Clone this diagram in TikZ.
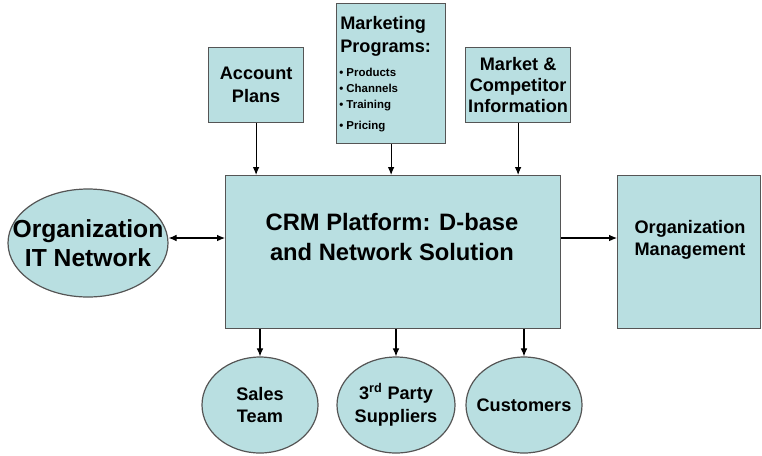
\documentclass[tikz,border=0pt]{standalone}
\usepackage{fontspec}
\setmainfont{Liberation Sans}
\usetikzlibrary{shapes.geometric,arrows.meta}
\definecolor{crmfill}{RGB}{185,223,225}
\definecolor{crmline}{RGB}{85,85,85}
\newdimen\px \px=0.75pt
\tikzset{
  box/.style={draw=crmline, fill=crmfill, line width=0.9pt, inner sep=0pt},
  blob/.style={ellipse, draw=crmline, fill=crmfill, line width=0.9pt, inner sep=0pt},
  link/.style={-{Latex[length=6pt,width=5pt]}, line width=0.8pt},
  mid/.style={font=\bfseries\fontsize{13.6}{17}\selectfont},
  big/.style={font=\bfseries\fontsize{17.8}{23}\selectfont},
}
\begin{document}
\begin{tikzpicture}[x=0.75pt,y=-0.75pt]
  \useasboundingbox (0,0) rectangle (762,455);
  % input boxes
  \node[box, minimum width=95\px, minimum height=75\px, anchor=north west] (plans) at (208,47) {};
  \node[align=center, mid] at (plans.center) {Account\\Plans};
  \node[box, minimum width=109\px, minimum height=140\px, anchor=north west] (mkt) at (336,3) {};
  \node[align=left, anchor=north west, inner sep=0pt, mid] at (340,16) {Marketing\\Programs:};
  \node[align=left, anchor=north west, inner sep=0pt, font=\bfseries\fontsize{8.6}{12}\selectfont] at (339,68) {\textbullet{} Products\\\textbullet{} Channels\\\textbullet{} Training\\[4pt]\textbullet{} Pricing};
  \node[box, minimum width=105\px, minimum height=75\px, anchor=north west] (intel) at (465,47) {};
  \node[align=center, font=\bfseries\fontsize{13.6}{16}\selectfont] at (intel.center) {Market \&\\Competitor\\Information};
  % platform and outputs
  \node[box, minimum width=335\px, minimum height=153\px, anchor=north west] (crm) at (225,175) {};
  \node[align=center, big] at (392,237) {CRM Platform: D-base\\and Network Solution};
  \node[box, minimum width=143\px, minimum height=153\px, anchor=north west] (mgmt) at (617,175) {};
  \node[align=left, mid] at (690,240) {Organization\\Management};
  \node[blob, minimum width=160\px, minimum height=108\px] (itnet) at (88,243) {};
  \node[align=center, font=\bfseries\fontsize{18.5}{22}\selectfont] at (itnet.center) {Organization\\IT Network};
  \node[blob, minimum width=116\px, minimum height=96\px] (sales) at (260,405) {};
  \node[align=center, mid] at (sales.center) {Sales\\Team};
  \node[blob, minimum width=118\px, minimum height=96\px] (supp) at (396,405) {};
  \node[align=center, mid] at (supp.center) {3\textsuperscript{rd} Party\\Suppliers};
  \node[blob, minimum width=116\px, minimum height=96\px] (cust) at (524,405) {};
  \node[mid] at (cust.center) {Customers};
  % connectors
  \draw[link] (plans.south) -- (plans.south |- crm.north);
  \draw[link] (mkt.south) -- (mkt.south |- crm.north);
  \draw[link] (intel.south) -- (intel.south |- crm.north);
  \draw[link, {Latex[length=6pt,width=5pt]}-{Latex[length=6pt,width=5pt]}] (itnet.east |- 0,238) -- (crm.west |- 0,238);
  \draw[link] (crm.east |- 0,238) -- (mgmt.west |- 0,238);
  \draw[link] (crm.south -| sales) -- (sales.north);
  \draw[link] (crm.south -| supp) -- (supp.north);
  \draw[link] (crm.south -| cust) -- (cust.north);
\end{tikzpicture}
\end{document}
